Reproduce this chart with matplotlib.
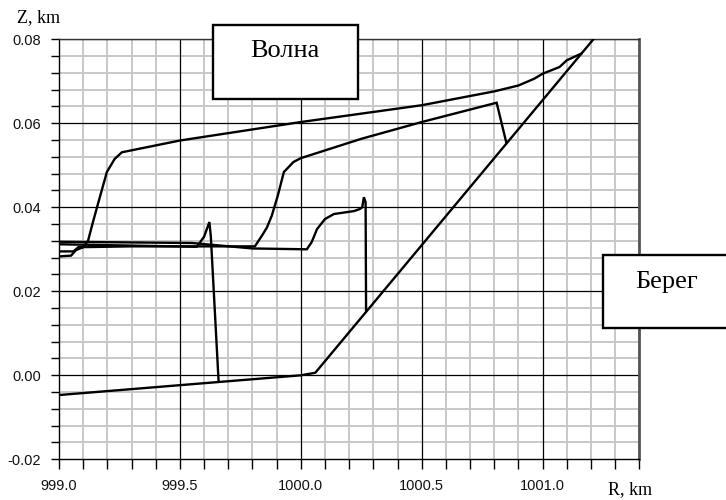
import numpy as np
import matplotlib
matplotlib.use("Agg")
import matplotlib.pyplot as plt
from matplotlib.patches import Rectangle
from matplotlib.ticker import MultipleLocator, FormatStrFormatter

# Shore (beach) profile
beach_r = [999.0, 1000.0, 1000.06, 1001.21]
beach_z = [-0.0047, 0.0000, 0.0006, 0.0800]

# Wave surface profiles at successive moments
wave_a_r = [999.0, 999.05, 999.07, 999.10, 999.12, 999.14, 999.163, 999.198,
            999.23, 999.26, 999.5, 1000.0, 1000.5, 1000.8, 1000.9, 1000.965,
            1001.0, 1001.07, 1001.10, 1001.16]
wave_a_z = [0.0283, 0.0285, 0.0298, 0.0305, 0.0320, 0.0364, 0.0412, 0.0484,
            0.0515, 0.0531, 0.0559, 0.0603, 0.0643, 0.0676, 0.0690, 0.0706,
            0.0718, 0.0734, 0.0750, 0.0766]

wave_b_r = [999.0, 999.06, 999.08, 999.3, 999.81, 999.84, 999.86, 999.88,
            999.905, 999.93, 999.97, 1000.0, 1000.25, 1000.5, 1000.81, 1000.85]
wave_b_z = [0.0295, 0.0295, 0.0305, 0.0307, 0.0307, 0.0333, 0.0352, 0.0380,
            0.0428, 0.0484, 0.0508, 0.0517, 0.0563, 0.0603, 0.0649, 0.0554]

wave_c_r = [999.0, 999.55, 999.8, 1000.025, 1000.045, 1000.067, 1000.10,
            1000.137, 1000.22, 1000.245, 1000.254, 1000.261, 1000.268, 1000.27]
wave_c_z = [0.0318, 0.0315, 0.0302, 0.0300, 0.0317, 0.0348, 0.0372,
            0.0384, 0.0391, 0.0396, 0.0400, 0.0424, 0.0412, 0.0153]

wave_d_r = [999.0, 999.57, 999.60, 999.622, 999.628, 999.66]
wave_d_z = [0.0312, 0.0306, 0.0330, 0.0365, 0.0330, -0.0014]

W, H = 726, 500
fig = plt.figure(figsize=(W / 100, H / 100), dpi=100)
fig.patch.set_facecolor("white")

ax_left, ax_right, ax_top, ax_bottom = 59, 639.3, 39.3, 459.3
ax = fig.add_axes([ax_left / W, 1 - ax_bottom / H,
                   (ax_right - ax_left) / W, (ax_bottom - ax_top) / H])

ax.set_xlim(999.0, 1001.4)
ax.set_ylim(-0.02, 0.08)

ax.xaxis.set_major_locator(MultipleLocator(0.5))
ax.xaxis.set_minor_locator(MultipleLocator(0.1))
ax.yaxis.set_major_locator(MultipleLocator(0.02))
ax.yaxis.set_minor_locator(MultipleLocator(0.004))
ax.xaxis.set_major_formatter(FormatStrFormatter("%.1f"))
ax.yaxis.set_major_formatter(FormatStrFormatter("%.2f"))

# Light minor grid underneath, dark major grid on top of it
ax.set_axisbelow(True)
ax.grid(which="minor", color="#c8c8c8", lw=1.4)
ax.grid(which="major", visible=False)
xmaj = [v for v in ax.xaxis.get_majorticklocs() if 999.0 < v < 1001.4]
ymaj = [v for v in ax.yaxis.get_majorticklocs() if -0.02 < v < 0.08]
ax.vlines(xmaj, -0.02, 0.08, colors="black", lw=0.9, zorder=1)
ax.hlines(ymaj, 999.0, 1001.4, colors="black", lw=0.9, zorder=1)

line_kw = dict(color="black", lw=1.7, solid_joinstyle="miter", zorder=3)
ax.plot(beach_r, beach_z, **line_kw)
ax.plot(wave_a_r, wave_a_z, **line_kw)
ax.plot(wave_b_r, wave_b_z, **line_kw)
ax.plot(wave_c_r, wave_c_z, **line_kw)
ax.plot(wave_d_r, wave_d_z, **line_kw)

ax.tick_params(axis="y", which="both", direction="out", length=6, width=1,
               color="black", pad=7, labelsize=10.5, right=False)
ax.tick_params(axis="x", which="both", direction="out", length=7, width=1,
               color="black", pad=7, labelsize=10.5, top=False)
for lab in ax.get_xticklabels() + ax.get_yticklabels():
    lab.set_family("Liberation Sans")
    lab.set_color("#111111")

ax.spines["left"].set_color("black")
ax.spines["bottom"].set_color("black")
ax.spines["left"].set_linewidth(1.0)
ax.spines["bottom"].set_linewidth(1.0)
ax.spines["top"].set_color("#333333")
ax.spines["top"].set_linewidth(1.0)
ax.spines["right"].set_color("#555555")
ax.spines["right"].set_linewidth(2.0)

# Axis titles
fig.text(39 / W, 1 - 18 / H, "Z, km", ha="center", va="center",
         fontsize=13, family="Liberation Serif")
fig.text(630 / W, 1 - 490 / H, "R, km", ha="center", va="center",
         fontsize=13, family="Liberation Serif")

# Labelled boxes
def label_box(x0, y0, x1, y1, text, tx, ty):
    fig.add_artist(Rectangle((x0 / W, 1 - y1 / H), (x1 - x0) / W, (y1 - y0) / H,
                             transform=fig.transFigure, facecolor="white",
                             edgecolor="black", lw=1.7, zorder=5))
    fig.text(tx / W, 1 - ty / H, text, ha="center", va="center",
             fontsize=19, family="Liberation Serif", zorder=6)

label_box(213, 25, 358, 98.5, "Волна", 285, 51)
label_box(602.5, 255, 745, 328, "Берег", 667, 282)

fig.savefig("out.png", dpi=100)
